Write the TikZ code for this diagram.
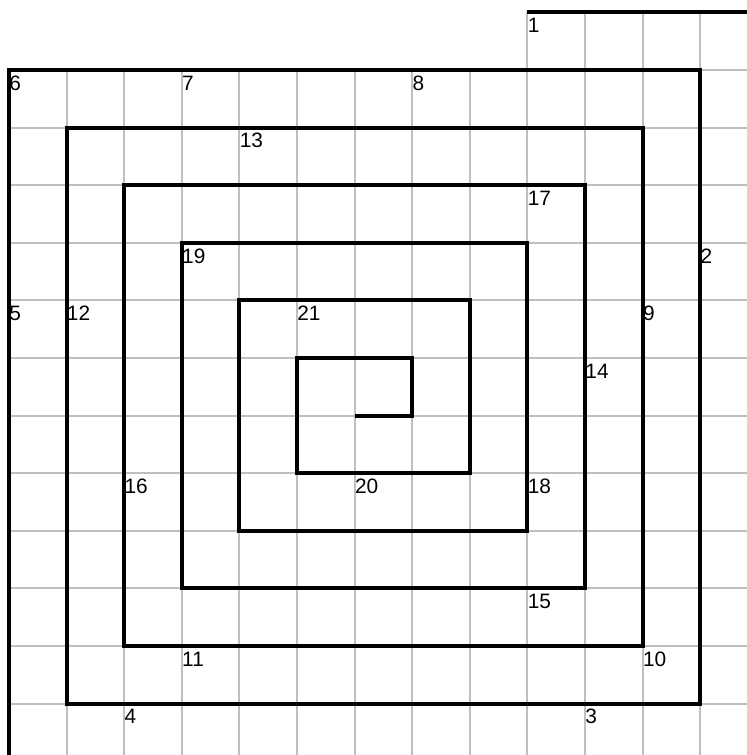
\documentclass[tikz,border=0pt]{standalone}
\usepackage{fontspec}
\setmainfont{Liberation Sans}
\begin{document}
\begin{tikzpicture}[x=1cm,y=1cm,
  gridline/.style={draw=black!25, line width=1pt},
  spiral/.style={draw=black, line width=2pt, line join=miter},
  num/.style={anchor=north west, inner sep=0pt, font=\fontsize{10.3}{12}\selectfont, xshift=0pt, yshift=-2.6pt}]
\useasboundingbox (-0.156,1.215) rectangle (12.812,-11.892);
\clip (-0.156,1.215) rectangle (12.812,-11.892);
% grid
\draw[gridline] (0,-12.5) grid (13.5,0);
\draw[gridline] (9,0) grid (13.5,1);
% spiral
\draw[spiral] (6,-6) -- (7,-6) -- (7,-5) -- (5,-5) -- (5,-7) -- (8,-7) -- (8,-4)
  -- (4,-4) -- (4,-8) -- (9,-8) -- (9,-3) -- (3,-3) -- (3,-9) -- (10,-9)
  -- (10,-2) -- (2,-2) -- (2,-10) -- (11,-10) -- (11,-1) -- (1,-1) -- (1,-11)
  -- (12,-11) -- (12,0) -- (0,0) -- (0,-12.5);
\draw[spiral] (13.5,1) -- (9,1);
% labels
\node[num] (l1) at (9,1) {1};
\node[num] (l2) at (12,-3) {2};
\node[num] (l3) at (10,-11) {3};
\node[num] (l4) at (2,-11) {4};
\node[num] (l5) at (0,-4) {5};
\node[num] (l6) at (0,0) {6};
\node[num] (l7) at (3,0) {7};
\node[num] (l8) at (7,0) {8};
\node[num] (l9) at (11,-4) {9};
\node[num] (l10) at (11,-10) {10};
\node[num] (l11) at (3,-10) {11};
\node[num] (l12) at (1,-4) {12};
\node[num] (l13) at (4,-1) {13};
\node[num] (l14) at (10,-5) {14};
\node[num] (l15) at (9,-9) {15};
\node[num] (l16) at (2,-7) {16};
\node[num] (l17) at (9,-2) {17};
\node[num] (l18) at (9,-7) {18};
\node[num] (l19) at (3,-3) {19};
\node[num] (l20) at (6,-7) {20};
\node[num] (l21) at (5,-4) {21};
\end{tikzpicture}
\end{document}
